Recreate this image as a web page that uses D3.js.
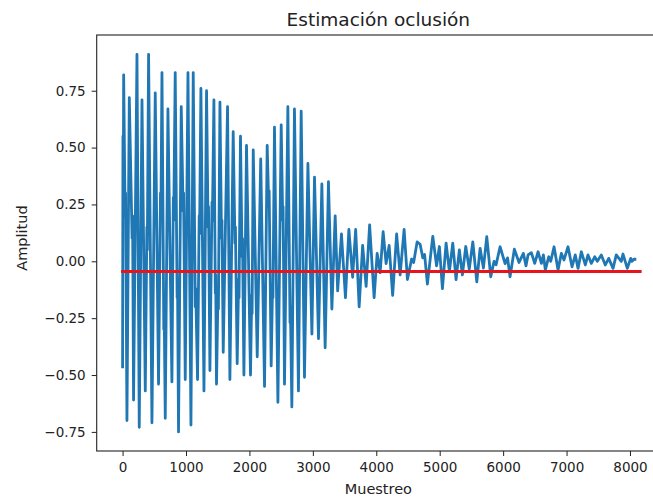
<!DOCTYPE html>
<html>
<head>
<meta charset="utf-8">
<script src="https://cdn.jsdelivr.net/npm/d3@7"></script>
<style>
  html, body { margin: 0; padding: 0; background: #fff; }
  svg { display: block; font-family: "DejaVu Sans", sans-serif; }
</style>
</head>
<body>
<svg id="chart" width="653" height="498"></svg>
<script>
// Main oscillation: sample index and amplitude of each turning point
const samples = [
  0, 6, 11, 17, 69, 106, 173, 227, 263, 306, 358, 410, 463, 515, 567, 621, 673, 715, 778, 830,
  882, 925, 988, 1031, 1078, 1114, 1182, 1235, 1283, 1324, 1377, 1440, 1481, 1535, 1587, 1655, 1692, 1744, 1807, 1859,
  1913, 1954, 2017, 2060, 2123, 2178, 2238, 2280, 2343, 2395, 2449, 2501, 2553, 2606, 2669, 2710, 2773, 2816, 2868, 2922,
  2985, 3026, 3089, 3142, 3194, 3246, 3300, 3352, 3391, 3451, 3514, 3568, 3627, 3675, 3730, 3785, 3840, 3895, 3966, 4014,
  4061, 4108, 4155, 4203, 4258, 4321, 4376, 4439, 4491, 4557, 4589, 4644, 4691, 4734, 4762, 4806, 4891, 4951, 4995, 5043,
  5101, 5153, 5206, 5258, 5310, 5358, 5411, 5466, 5522, 5585, 5637, 5689, 5742, 5805, 5857, 5889, 5952, 6031, 6070, 6109,
  6177, 6251, 6319, 6361, 6393, 6445, 6498, 6551, 6603, 6635, 6666, 6719, 6751, 6803, 6866, 6918, 6960, 7023, 7086, 7138,
  7181, 7233, 7296, 7338, 7391, 7444, 7485, 7548, 7611, 7665, 7733, 7784, 7863, 7890, 7958, 8011, 8032, 8063, 8100
];
const amplitude = [
  -0.47, 0.55, 0.25, 0.82, -0.70, 0.72, -0.61, 0.91, -0.73, 0.71, -0.57, 0.91, -0.71, 0.74, -0.54, 0.83, -0.69, 0.67, -0.53, 0.83,
  -0.75, 0.68, -0.52, 0.83, -0.72, 0.83, -0.52, 0.76, -0.57, 0.75, -0.48, 0.71, -0.54, 0.70, -0.40, 0.68, -0.52, 0.57, -0.45, 0.55,
  -0.50, 0.51, -0.50, 0.49, -0.42, 0.45, -0.55, 0.51, -0.46, 0.59, -0.62, 0.60, -0.54, 0.68, -0.64, 0.67, -0.57, 0.66, -0.51, 0.43,
  -0.32, 0.37, -0.34, 0.34, -0.38, 0.35, -0.21, 0.20, -0.13, 0.12, -0.16, 0.14, -0.07, 0.14, -0.20, 0.07, -0.11, 0.16, -0.16, 0.035,
  -0.05, 0.13, -0.01, 0.07, -0.15, 0.12, -0.06, 0.14, -0.08, 0.01, -0.005, 0.085, 0.075, 0.015, 0.03, -0.10, 0.11, -0.02, 0.065, -0.12,
  0.08, -0.045, 0.08, -0.08, 0.05, -0.06, 0.065, -0.035, 0.085, -0.09, 0.057, -0.03, 0.108, -0.068, 0.0, -0.015, 0.064, -0.01, 0.015, -0.068,
  0.053, -0.005, 0.035, -0.02, 0.028, 0.038, -0.009, 0.042, -0.009, 0.028, -0.038, 0.02, 0.0, 0.064, -0.038, 0.035, 0.006, 0.064, -0.024, 0.028,
  -0.031, 0.042, -0.016, 0.028, -0.009, 0.02, 0.0, 0.028, -0.016, 0.013, -0.031, 0.028, 0.0, 0.032, -0.031, 0.013, 0.0, 0.009, 0.009
];

// Secondary ripples riding on the strong strokes of the first 2700 samples
const rippleSamples = [
  40, 47, 150, 158, 383, 390, 598, 604, 650, 656, 800, 806, 860, 866, 955, 962,
  1146, 1153, 1208, 1214, 1348, 1355, 1410, 1416, 1462, 1468, 1505, 1511, 1560, 1567,
  1772, 1779, 1830, 1836, 1884, 1891, 2036, 2042, 2305, 2311, 2365, 2371, 2525, 2531, 2640, 2646
];
const rippleAmplitude = [
  0.20, 0.30, 0.10, 0.20, 0.15, 0.05, 0.30, 0.20, -0.30, -0.22, 0.28, 0.18, -0.16, -0.08, 0.22, 0.30,
  -0.20, -0.12, 0.20, 0.12, 0.15, 0.24, 0.26, 0.18, -0.14, -0.06, -0.12, -0.21, 0.10, 0.18,
  0.08, 0.15, -0.08, -0.16, 0.02, 0.10, -0.15, -0.23, 0.24, 0.31, -0.10, -0.16, 0.18, 0.24, -0.27, -0.20
];

// Estimated occlusion level (horizontal reference)
const thresholdLevel = -0.045;
const thresholdSpan = [0, 8160];

const xTicks = [0, 1000, 2000, 3000, 4000, 5000, 6000, 7000, 8000];
const yTicks = [-0.75, -0.50, -0.25, 0.00, 0.25, 0.50, 0.75];

const titleText = "Estimación oclusión";
const xLabel = "Muestreo";
const yLabel = "Amplitud";

const svg = d3.select("#chart");
const plot = { left: 96.7, right: 666, top: 35, bottom: 451 };

const x = d3.scaleLinear().domain([-408, 8568]).range([plot.left, plot.right]);
const y = d3.scaleLinear().domain([-0.834, 0.995]).range([plot.bottom, plot.top]);

const series = samples.map((s, i) => ({ s, v: amplitude[i] }))
  .concat(rippleSamples.map((s, i) => ({ s, v: rippleAmplitude[i] })))
  .sort((a, b) => a.s - b.s);

const line = d3.line().x(d => x(d.s)).y(d => y(d.v));

svg.append("defs").append("clipPath").attr("id", "plotClip")
  .append("rect")
  .attr("x", plot.left).attr("y", plot.top)
  .attr("width", plot.right - plot.left).attr("height", plot.bottom - plot.top);

const g = svg.append("g").attr("clip-path", "url(#plotClip)");

g.append("path")
  .datum(series)
  .attr("fill", "none")
  .attr("stroke", "#1f77b4")
  .attr("stroke-width", 2.8)
  .attr("stroke-linejoin", "round")
  .attr("d", line);

g.append("line")
  .attr("x1", x(thresholdSpan[0])).attr("x2", x(thresholdSpan[1]))
  .attr("y1", y(thresholdLevel)).attr("y2", y(thresholdLevel))
  .attr("stroke", "#e8141c")
  .attr("stroke-width", 3)
  .attr("stroke-linecap", "square");

// Axes
const xAxis = d3.axisBottom(x).tickValues(xTicks).tickSize(5).tickPadding(6)
  .tickFormat(d3.format("d"));
const yAxis = d3.axisLeft(y).tickValues(yTicks).tickSize(5).tickPadding(6)
  .tickFormat(d => d3.format(".2f")(d).replace("-", "\u2212"));

const gx = svg.append("g").attr("transform", `translate(0,${plot.bottom})`).call(xAxis);
const gy = svg.append("g").attr("transform", `translate(${plot.left},0)`).call(yAxis);

[gx, gy].forEach(a => {
  a.select(".domain").remove();
  a.selectAll(".tick line").attr("stroke", "#222").attr("stroke-width", 1);
  a.selectAll(".tick text").attr("fill", "#222")
    .style("font-family", "DejaVu Sans, sans-serif").style("font-size", "13.5px");
});

// Frame
svg.append("rect")
  .attr("x", plot.left).attr("y", plot.top)
  .attr("width", plot.right - plot.left).attr("height", plot.bottom - plot.top)
  .attr("fill", "none").attr("stroke", "#222").attr("stroke-width", 1.1);

const cx = (plot.left + plot.right) / 2 - 3;

svg.append("text")
  .attr("x", cx).attr("y", 26)
  .attr("text-anchor", "middle")
  .attr("fill", "#222")
  .style("font-size", "18.5px")
  .text(titleText);

svg.append("text")
  .attr("x", cx).attr("y", 494)
  .attr("text-anchor", "middle")
  .attr("fill", "#222")
  .style("font-size", "14.5px")
  .text(xLabel);

svg.append("text")
  .attr("transform", `translate(27,${(plot.top + plot.bottom) / 2 - 5}) rotate(-90)`)
  .attr("text-anchor", "middle")
  .attr("fill", "#222")
  .style("font-size", "14.5px")
  .text(yLabel);
</script>
</body>
</html>
